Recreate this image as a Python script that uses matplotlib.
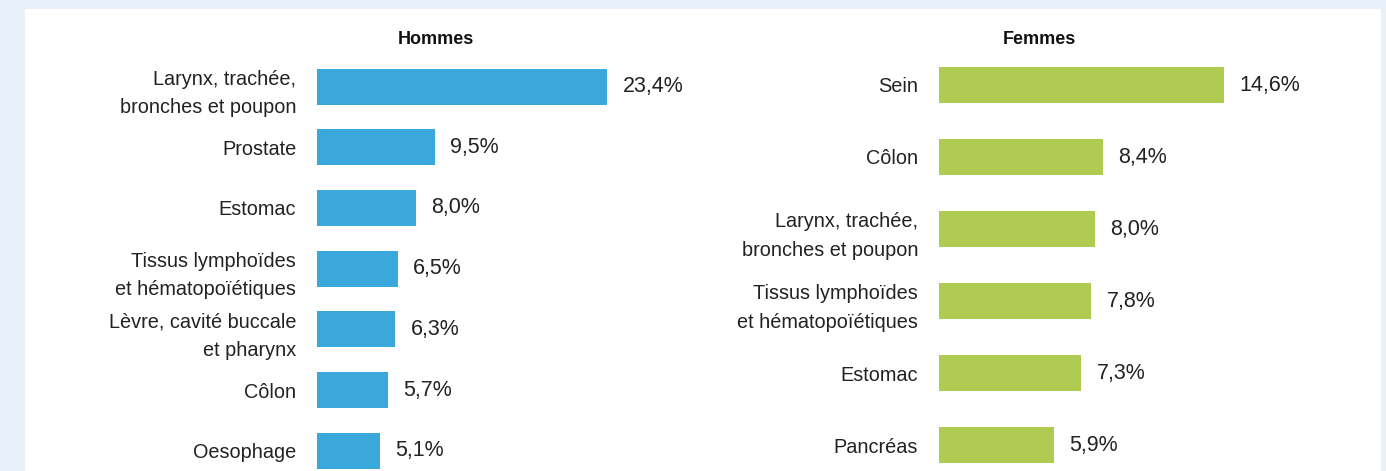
import matplotlib.pyplot as plt
from matplotlib.patches import Rectangle

# data
hommes_labels = ["Larynx, trachée,\nbronches et poupon", "Prostate", "Estomac",
                 "Tissus lymphoïdes\net hématopoïétiques", "Lèvre, cavité buccale\net pharynx",
                 "Côlon", "Oesophage"]
hommes_values = [23.4, 9.5, 8.0, 6.5, 6.3, 5.7, 5.1]

femmes_labels = ["Sein", "Côlon", "Larynx, trachée,\nbronches et poupon",
                 "Tissus lymphoïdes\net hématopoïétiques", "Estomac", "Pancréas"]
femmes_values = [14.6, 8.4, 8.0, 7.8, 7.3, 5.9]

W, H = 1386, 471
plt.rcParams['font.family'] = ['Liberation Sans', 'DejaVu Sans']

fig = plt.figure(figsize=(W / 100, H / 100), dpi=100)
fig.patch.set_facecolor('#e8f1f9')
fig.patches.append(Rectangle((25 / W, 0), (1381 - 25) / W, 1 - 9 / H,
                             transform=fig.transFigure, facecolor='white',
                             edgecolor='none', zorder=-10))


def draw(values, labels, color, left, px_per_unit, first_center, step, bar_px, title, title_x):
    ax_w = 320
    ax = fig.add_axes([left / W, 0, ax_w / W, 1])
    ax.set_zorder(5)
    ax.patch.set_alpha(0)
    pos = list(range(len(values)))
    ax.barh(pos, values, height=bar_px / step, color=color)
    ax.set_xlim(0, ax_w / px_per_unit)
    ax.set_ylim((H - first_center) / step, -first_center / step)
    ax.set_yticks(pos)
    ax.set_yticklabels(labels, fontsize=14.3, color='#222222', ha='right',
                       linespacing=1.65)
    ax.tick_params(axis='y', length=0, pad=15)
    ax.set_xticks([])
    for s in ax.spines.values():
        s.set_visible(False)
    for p, v in zip(pos, values):
        ax.annotate(f"{v:.1f}%".replace('.', ','), (v, p), xytext=(11, 0),
                    textcoords='offset points', va='center', ha='left',
                    fontsize=15.5, color='#222222')
    fig.text(title_x / W, 1 - 40 / H, title, ha='center', va='center',
             fontsize=13, fontweight='bold', color='#111111')


draw(hommes_values, hommes_labels, '#3aa8db', 317, 12.4, 86.5, 60.7, 36, "Hommes", 436)
draw(femmes_values, femmes_labels, '#b0cb52', 939, 19.5, 85, 72, 36, "Femmes", 1039)

fig.savefig('out.png', dpi=100, facecolor=fig.get_facecolor())
